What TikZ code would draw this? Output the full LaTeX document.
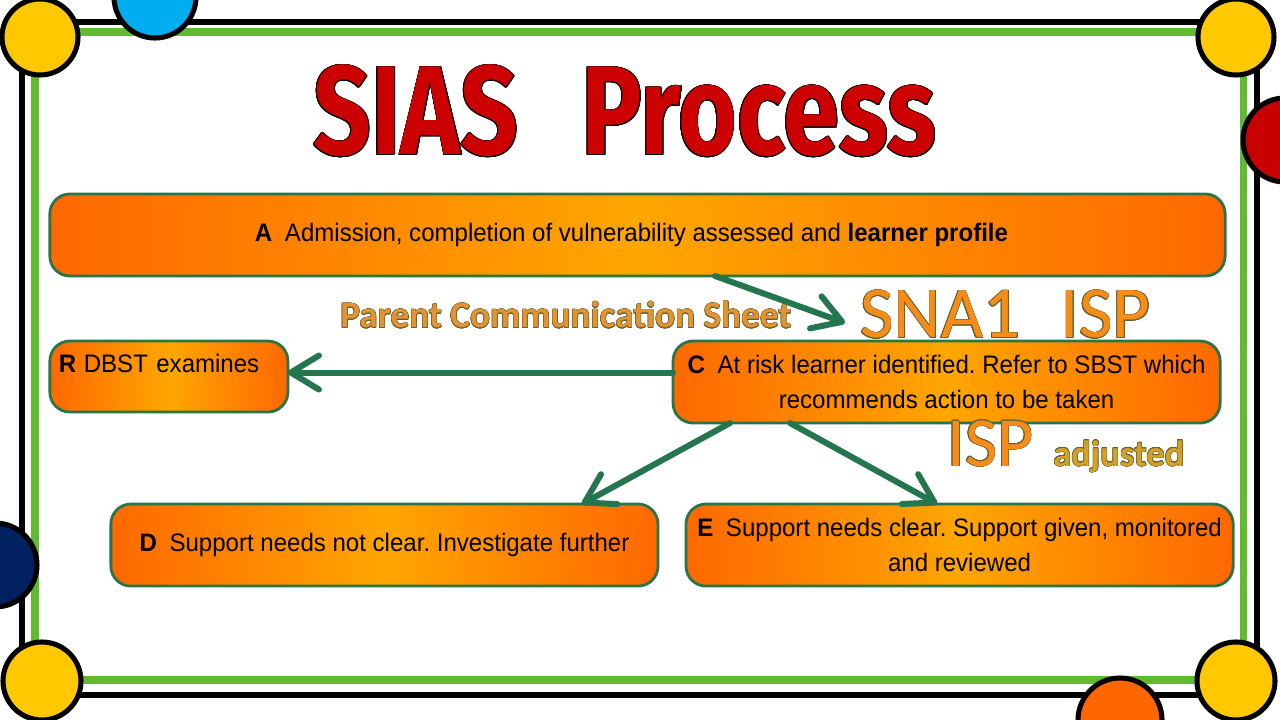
\documentclass[tikz,border=0pt]{standalone}
\usepackage{fontspec}
\usepackage{contour}
\usetikzlibrary{positioning,calc,arrows.meta}

\setmainfont{Liberation Sans}
\newfontfamily\boxfont[FakeStretch=0.95]{Liberation Sans}
\newfontfamily\titlefont[FakeStretch=0.80]{Fira Sans}
\newfontfamily\callfont{Carlito}
\frenchspacing

\definecolor{boxline}{RGB}{42,117,72}
\definecolor{arrowgreen}{RGB}{36,118,78}
\definecolor{framegreen}{RGB}{96,188,46}
\definecolor{dotyellow}{RGB}{255,200,0}
\definecolor{dotblue}{RGB}{0,174,239}
\definecolor{dotred}{RGB}{200,0,0}
\definecolor{dotnavy}{RGB}{0,32,96}
\definecolor{dotorange}{RGB}{255,102,0}
\definecolor{titlered}{RGB}{204,0,0}
\definecolor{orangeedge}{RGB}{255,104,0}
\definecolor{orangemid}{RGB}{255,166,0}
\definecolor{snaorange}{RGB}{248,140,24}
\definecolor{sheetorange}{RGB}{228,146,50}
\definecolor{adjgold}{RGB}{212,160,40}
\definecolor{callline}{RGB}{100,100,50}

\tikzstyle{etapa}=[rounded corners=0.5cm,draw=boxline,line width=2pt,left color=orangeedge,right color=orangeedge,middle color=orangemid,minimum height=2.05cm,minimum width=13.675cm,align=center,font=\boxfont\frenchspacing\fontsize{18}{25}\selectfont,outer sep=0pt]
\tikzstyle{flecha}=[draw=arrowgreen,line width=4.3pt,line cap=round,-{Straight Barb[length=0.7cm,width=0.85cm,round]}]
\tikzstyle{dot}=[draw=black,line width=3.6pt]
\tikzstyle{texto}=[inner sep=0pt,anchor=base west]

\begin{document}
\begin{tikzpicture}[x=0.025cm,y=-0.025cm]
  \useasboundingbox (0,0) rectangle (1280,720);
  \fill[white] (0,0) rectangle (1280,720);

  \draw[line width=3.6pt] (22,22) rectangle (1257,695);
  \draw[framegreen,line width=5pt] (35,32) rectangle (1243,680);

  \draw[dot,fill=dotblue] (155,-3) circle [radius=41];
  \draw[dot,fill=dotred] (1285,140) circle [radius=42];
  \draw[dot,fill=dotnavy] (-5,565) circle [radius=42];
  \draw[dot,fill=dotorange] (1120,720) circle [radius=42];
  \draw[dot,fill=dotyellow] (40,37) circle [radius=38];
  \draw[dot,fill=dotyellow] (1236,37) circle [radius=38];
  \draw[dot,fill=dotyellow] (42,681) circle [radius=39];
  \draw[dot,fill=dotyellow] (1236,681) circle [radius=39];

  \node[texto,font=\titlefont\bfseries\fontsize{90}{90}\selectfont] (titulo) at (313,155)
    {\contourlength{0.6pt}\color{titlered}\contour{black}{SIAS\hspace{0.5em}Process}};

  \node[etapa,minimum width=29.375cm] (a) at (637.5,235)
    {\textbf{A}\hspace{0.5em}Admission, completion of vulnerability assessed and \textbf{learner profile}\hspace*{0.3cm}};

  \node[etapa,minimum width=5.95cm,minimum height=1.775cm,text width=5.5cm,align=left,text depth=0.65cm,
    below=1.625cm of a.south west,anchor=north west] (r) {\textbf{R}\hspace{0.3em}DBST examines};

  \node[etapa,below=1.625cm of a.south east,anchor=north east,xshift=-0.125cm] (c)
    {\textbf{C}\hspace{0.5em}At risk learner identified. Refer to SBST which\\recommends action to be taken};

  \node[etapa,below=2.025cm of c,xshift=0.325cm] (e)
    {\textbf{E}\hspace{0.5em}Support needs clear. Support given, monitored\\and reviewed};

  \node[etapa,left=0.7cm of e] (d)
    {\textbf{D}\hspace{0.5em}Support needs not clear. Investigate further};

  \node[texto,font=\callfont\bfseries\fontsize{26.5}{26.5}\selectfont] (hoja) at (340,328)
    {\contourlength{0.3pt}\color{sheetorange}\contour{callline}{Parent Communication Sheet}};
  \node[texto,font=\callfont\fontsize{52}{52}\selectfont] (sna) at (860,338)
    {\contourlength{0.5pt}\color{snaorange}\contour{callline}{SNA1\hspace{0.55em}ISP}};
  \node[texto,font=\callfont\fontsize{50}{50}\selectfont] (isp) at (947,466)
    {\contourlength{0.5pt}\color{snaorange}\contour{callline}{ISP}};
  \node[texto,font=\callfont\bfseries\fontsize{26}{26}\selectfont] (ajuste) at (1053,466)
    {\contourlength{0.3pt}\color{adjgold}\contour{callline}{adjusted}};

  \draw[flecha] ($(a.south west)!0.566!(a.south east)$) -- ($(sna.west)+(-15,8)$);
  \draw[flecha] ([yshift=0.1cm]c.west |- r.east) -- ([yshift=0.1cm]r.east);
  \draw[flecha] ($(c.south west)!0.104!(c.south east)$) -- ($(d.north west)!0.861!(d.north east)$);
  \draw[flecha] ($(c.south west)!0.214!(c.south east)$) -- ($(e.north west)!0.459!(e.north east)$);
\end{tikzpicture}
\end{document}
